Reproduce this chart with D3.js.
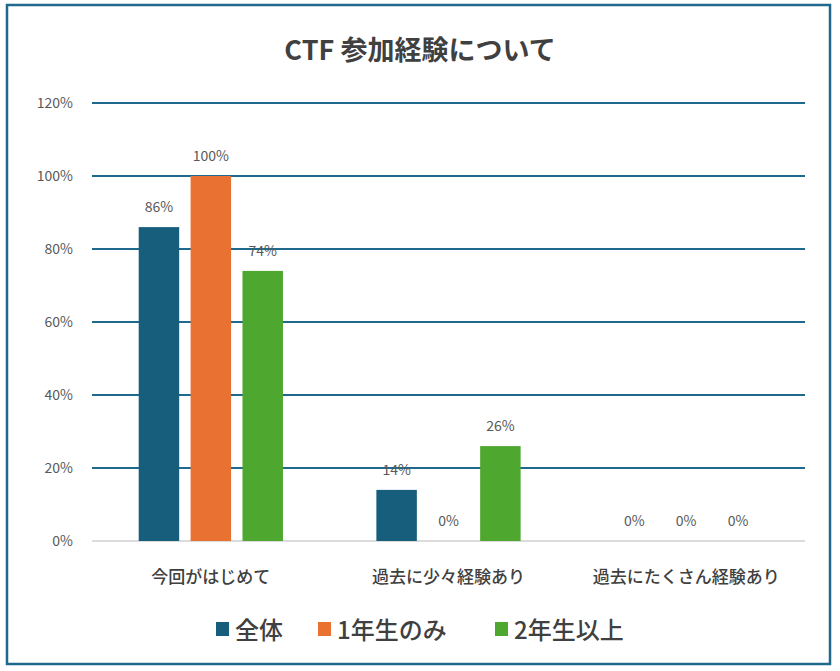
<!DOCTYPE html>
<html><head><meta charset="utf-8">
<script src="https://cdn.jsdelivr.net/npm/d3@7"></script>
<style>body{margin:0;background:#fff;}text{font-family:"Noto Sans CJK JP","Noto Sans",sans-serif;}</style>
</head><body><div id="chart"></div>
<script>
const categories = ["今回がはじめて", "過去に少々経験あり", "過去にたくさん経験あり"];
const seriesNames = ["全体", "1年生のみ", "2年生以上"];
const seriesValues = [
  [86, 14, 0],
  [100, 0, 0],
  [74, 26, 0]
];
const yTicks = [0, 20, 40, 60, 80, 100, 120];
const colors = ["#175e7c", "#e97132", "#4ea72e"];

const W = 840, H = 671;
const svg = d3.select("#chart").append("svg").attr("width", W).attr("height", H);
svg.append("rect").attr("x", 7).attr("y", 5).attr("width", 823).attr("height", 659)
  .attr("fill", "#fff").attr("stroke", "#1f6a8c").attr("stroke-width", 2.5);

svg.append("text").attr("x", 420).attr("y", 60).attr("text-anchor", "middle")
  .attr("font-size", 27).attr("font-weight", "bold").attr("fill", "#404040").text("CTF 参加経験について");

const x = d3.scaleBand().domain(categories).range([92, 805]);
const xs = d3.scaleBand().domain(d3.range(3)).range([0, x.bandwidth()]).paddingInner(0.22).paddingOuter(0.9);
const y = d3.scaleLinear().domain([0, 120]).range([541, 103]);

const grid = svg.append("g");
grid.selectAll("line").data(yTicks.filter(d => d > 0)).join("line")
  .attr("x1", 92).attr("x2", 805).attr("y1", d => y(d)).attr("y2", d => y(d))
  .attr("stroke", "#1f6a8c").attr("stroke-width", 2);
svg.append("line").attr("x1", 92).attr("x2", 805).attr("y1", y(0)).attr("y2", y(0))
  .attr("stroke", "#d0d0d0").attr("stroke-width", 1.5);
svg.append("g").selectAll("text").data(yTicks).join("text")
  .attr("x", 73).attr("y", d => y(d) + 5).attr("text-anchor", "end")
  .attr("font-size", 14).attr("fill", "#595959").text(d => d + "%");

seriesValues.forEach((vals, s) => {
  const g = svg.append("g");
  g.selectAll("rect").data(vals).join("rect")
    .attr("x", (d, i) => x(categories[i]) + xs(s)).attr("width", xs.bandwidth())
    .attr("y", d => y(d)).attr("height", d => y(0) - y(d)).attr("fill", colors[s]);
  g.selectAll("text").data(vals).join("text")
    .attr("x", (d, i) => x(categories[i]) + xs(s) + xs.bandwidth() / 2)
    .attr("y", d => y(d) - 15).attr("text-anchor", "middle")
    .attr("font-size", 14).attr("fill", "#595959").text(d => d + "%");
});

svg.append("g").selectAll("text").data(categories).join("text")
  .attr("x", d => x(d) + x.bandwidth() / 2).attr("y", 583).attr("text-anchor", "middle")
  .attr("font-size", 17).attr("font-weight", 500).attr("fill", "#404040").text(d => d);

const legX = [216, 318, 495];
const leg = svg.append("g");
seriesNames.forEach((n, i) => {
  leg.append("rect").attr("x", legX[i]).attr("y", 622).attr("width", 13).attr("height", 14).attr("fill", colors[i]);
  leg.append("text").attr("x", legX[i] + 19).attr("y", 639).attr("font-size", 24).attr("font-weight", 500)
    .attr("fill", "#404040").text(n);
});
</script></body></html>
